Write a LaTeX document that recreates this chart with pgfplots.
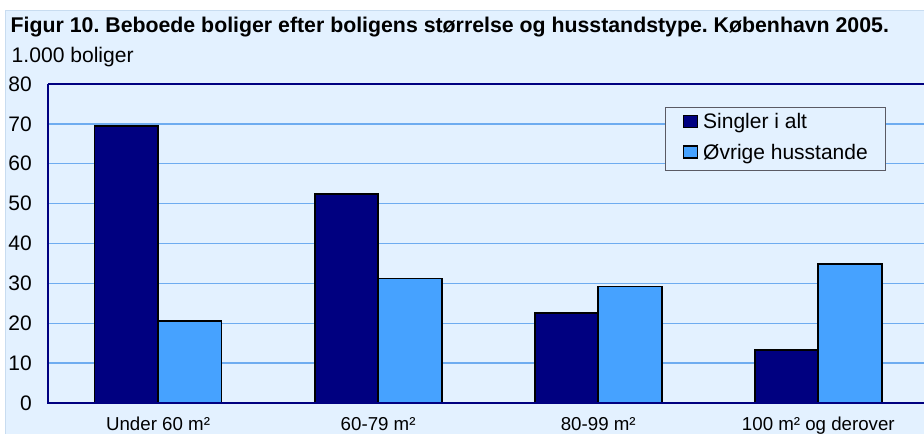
\documentclass[border=0pt]{standalone}
\usepackage{pgfplots}
\pgfplotsset{compat=1.18}
\usepackage{fontspec}
\setmainfont{Liberation Sans}
\frenchspacing
\definecolor{bgc}{RGB}{227,241,255}
\definecolor{bordc}{RGB}{200,220,240}
\definecolor{gridc}{RGB}{110,172,240}
\definecolor{navyc}{RGB}{0,0,128}
\definecolor{darkbar}{RGB}{0,0,128}
\definecolor{lightbar}{RGB}{70,162,255}
\definecolor{legbord}{RGB}{90,90,100}
\begin{document}
\begin{tikzpicture}
\path[use as bounding box] (0bp,0bp) rectangle (924bp,434bp);
\fill[white] (0bp,0bp) rectangle (924bp,434bp);
\filldraw[fill=bgc, draw=bordc, line width=1bp] (5.5bp,-2bp) rectangle (930bp,423.5bp);
\node[anchor=base west, inner sep=0pt, font=\fontsize{21.3bp}{25bp}\selectfont\bfseries] at (10.5bp,401bp)
  {Figur 10. Beboede boliger efter boligens størrelse og husstandstype. København 2005.};
\node[anchor=base west, inner sep=0pt, font=\fontsize{21.1bp}{25bp}\selectfont] at (11.5bp,371bp) {1.000 boliger};
\begin{axis}[
  at={(48bp,31bp)}, anchor=south west,
  scale only axis, width=876bp, height=319bp,
  xmin=-0.5, xmax=3.48, ymin=0, ymax=80,
  ybar=0pt, bar width=63.5bp,
  xtick={0,1,2,3},
  xticklabels={Under 60 m², 60-79 m², 80-99 m², 100 m² og derover},
  ytick={0,10,20,30,40,50,60,70,80},
  ymajorgrids, grid style={line width=1.4bp, color=gridc},
  major tick length=0pt,
  axis line style={draw=none},
  clip=false,
  /pgf/number format/assume math mode=true,
  xticklabel style={anchor=base, inner sep=0pt, yshift=-27bp, font=\fontsize{18.7bp}{22bp}\selectfont},
  yticklabel style={anchor=east, inner sep=0pt, xshift=-16bp, font=\fontsize{21bp}{25bp}\selectfont},
  legend style={at={(rel axis cs:0.704,0.928)}, anchor=north west,
    draw=legbord, line width=1bp, fill=bgc,
    inner xsep=17.5bp, inner ysep=6bp, row sep=10bp,
    font=\fontsize{21bp}{25bp}\selectfont,
    nodes={inner sep=0pt, text height=15.5bp, text depth=5bp}},
  legend cell align=left,
  /tikz/every odd column/.append style={column sep=5bp},
]
\addplot[fill=darkbar, draw=black, line width=1.8bp,
  legend image code/.code={\draw[fill=darkbar, draw=black, line width=1.5bp] (0bp,-4bp) rectangle (14bp,8bp);}]
  coordinates {(0,69.5) (1,52.4) (2,22.6) (3,13.3)};
\addlegendentry{Singler i alt}
\addplot[fill=lightbar, draw=black, line width=1.8bp,
  legend image code/.code={\draw[fill=lightbar, draw=black, line width=1.5bp] (0bp,-4bp) rectangle (14bp,8bp);}]
  coordinates {(0,20.6) (1,31.2) (2,29.2) (3,34.9)};
\addlegendentry{Øvrige husstande}
\draw[navyc, line width=2.2bp] (rel axis cs:0,1) -- (rel axis cs:0,0) -- (rel axis cs:1.02,0);
\draw[navyc, line width=2.2bp] (rel axis cs:0,1) -- (rel axis cs:1.02,1);
\end{axis}
\end{tikzpicture}
\end{document}
